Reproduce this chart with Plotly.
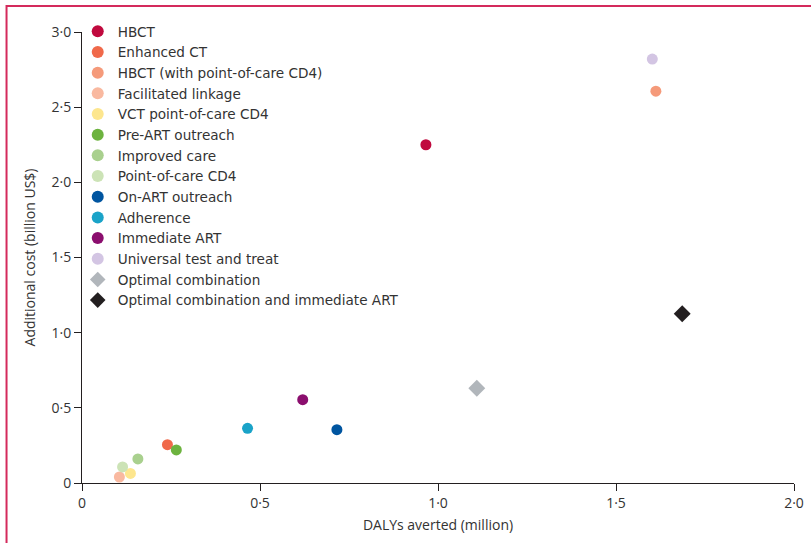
import plotly.graph_objects as go

names = ["HBCT", "Enhanced CT", "HBCT (with point-of-care CD4)", "Facilitated linkage",
         "VCT point-of-care CD4", "Pre-ART outreach", "Improved care", "Point-of-care CD4",
         "On-ART outreach", "Adherence", "Immediate ART", "Universal test and treat",
         "Optimal combination", "Optimal combination and immediate ART"]
dalys = [0.966, 0.240, 1.612, 0.105, 0.136, 0.265, 0.157, 0.114, 0.716, 0.465, 0.620, 1.602, 1.109, 1.686]
cost = [2.250, 0.255, 2.606, 0.040, 0.064, 0.220, 0.160, 0.107, 0.355, 0.364, 0.554, 2.820, 0.630, 1.126]
colors = ["#c0093e", "#f0694a", "#f59a7a", "#f9b9a0", "#fde68e", "#6db33f", "#a9d08e", "#cce3b6",
          "#0055a0", "#1aa3c8", "#8b0e6e", "#d3c5e3", "#b1b6bb", "#231f20"]
symbols = ["circle"] * 12 + ["diamond", "diamond"]

tick_vals_x = [0, 0.5, 1.0, 1.5, 2.0]
tick_text_x = ["0", "0·5", "1·0", "1·5", "2·0"]
tick_vals_y = [0, 0.5, 1.0, 1.5, 2.0, 2.5, 3.0]
tick_text_y = ["0", "0·5", "1·0", "1·5", "2·0", "2·5", "3·0"]

FONT = "Open Sans"
LFONT = "DejaVu Sans"
TXT = "#333333"

fig = go.Figure()
for i, n in enumerate(names):
    fig.add_trace(go.Scatter(
        x=[dalys[i]], y=[cost[i]], mode="markers", name=n,
        marker=dict(color=colors[i], symbol=symbols[i], size=11 if symbols[i] == "circle" else 13,
                    line=dict(width=0)),
        cliponaxis=False,
    ))

fig.update_layout(
    width=811, height=543,
    margin=dict(l=82, r=17, t=32, b=60, autoexpand=False),
    paper_bgcolor="white", plot_bgcolor="white",
    font=dict(family=FONT, size=14, color=TXT),
    showlegend=True,
    legend=dict(x=-0.006, y=1.0356, xanchor="left", yanchor="top", maxheight=600,
                bgcolor="rgba(0,0,0,0)", font=dict(family=LFONT, size=13.6, color=TXT),
                itemsizing="constant"),
    xaxis=dict(range=[0, 2.0], tickvals=tick_vals_x, ticktext=tick_text_x,
               showgrid=False, zeroline=False, showline=True, linecolor="#231f20", linewidth=1,
               ticks="outside", ticklen=7, tickcolor="#231f20", tickwidth=1,
               tickfont=dict(family=FONT, size=14, color=TXT),
               title=dict(text="DALYs averted (million)", font=dict(family=FONT, size=14, color=TXT), standoff=9)),
    yaxis=dict(range=[0, 3.0], tickvals=tick_vals_y, ticktext=tick_text_y,
               showgrid=False, zeroline=False, showline=True, linecolor="#231f20", linewidth=1,
               ticks="outside", ticklen=7, tickcolor="#231f20", tickwidth=1,
               tickfont=dict(family=FONT, size=14, color=TXT),
               title=dict(text="Additional cost (billion US$)", font=dict(family=FONT, size=14, color=TXT), standoff=12)),
    shapes=[dict(type="path", xref="paper", yref="paper",
                 path="M -0.106 -0.2 L -0.106 1.0576 L 1.05 1.0576",
                 line=dict(color="#d42a5c", width=2))],
)

fig.write_html("out.html", config={"displayModeBar": False},
               post_script="document.body.style.margin='0';")
